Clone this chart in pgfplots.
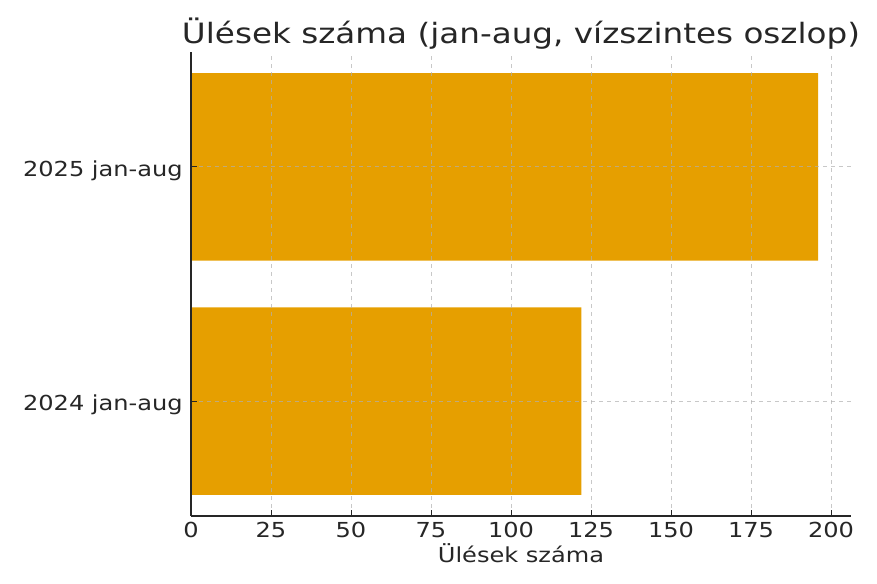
\documentclass[border=0pt]{standalone}
\usepackage{pgfplots}
\pgfplotsset{compat=1.18}
\usepackage{fontspec}
\setmainfont{DejaVu Sans}[FakeStretch=1.165]
\definecolor{barc}{HTML}{E69F00}
\definecolor{txt}{HTML}{262626}
\definecolor{gridc}{HTML}{B0B0B0}
\begin{document}
\begin{tikzpicture}[x=1pt,y=1pt]
\path[use as bounding box] (-143.25,-51) rectangle (514.5,387);
\begin{axis}[
  at={(0,0)}, anchor=south west,
  scale only axis,
  width=495pt, height=348pt,
  xbar, bar width=0.8,
  xmin=0, xmax=206.25,
  ymin=-0.49, ymax=1.49,
  ytick={0,1},
  yticklabels={2024 jan-aug,2025 jan-aug},
  xtick={0,25,50,75,100,125,150,175,200},
  /pgf/number format/assume math mode=true,
  tick label style={font=\fontsize{15.5}{18}\selectfont, text=txt, inner sep=0pt},
  xticklabel style={anchor=base, yshift=-15.8pt},
  yticklabel style={anchor=base east, xshift=-6pt, yshift=-7pt},
  xlabel={Ülések száma},
  xlabel style={font=\fontsize{15.5}{18}\selectfont, text=txt, inner sep=0pt,
    at={(axis description cs:0.5,0)}, anchor=base, yshift=-35pt},
  title={Ülések száma (jan-aug, vízszintes oszlop)},
  title style={font=\fontsize{21}{25}\selectfont, text=txt, inner sep=0pt,
    at={(axis description cs:0.5,1)}, anchor=base, yshift=0.5pt},
  axis x line*=bottom, axis y line*=left,
  axis line style={txt, line width=0.9pt, -},
  tick style={txt, line width=0.7pt},
  tick align=inside, major tick length=4.5pt,
  xmajorgrids, ymajorgrids,
  grid style={gridc, dashed, line width=0.5pt, opacity=0.7},
  axis on top,
  clip=false,
]
\addplot[fill=barc, draw=none] coordinates {(122,0) (196,1)};
\end{axis}
\end{tikzpicture}
\end{document}
